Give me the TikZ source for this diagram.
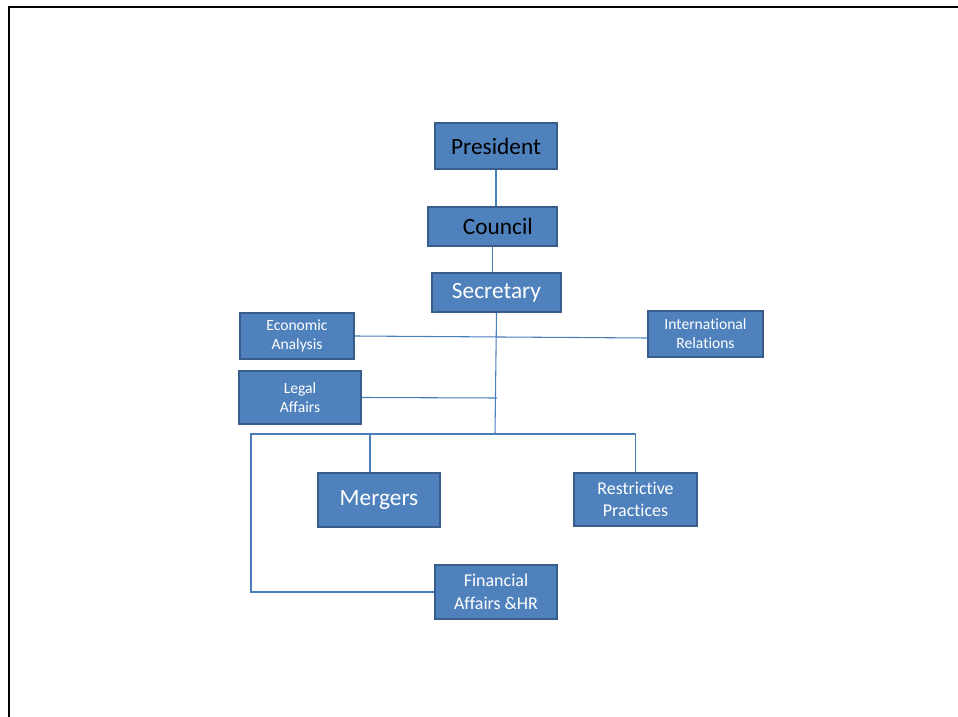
\documentclass[tikz,border=0pt]{standalone}
\usepackage{fontspec}
\setmainfont{Carlito}[RawFeature=-liga]
\usetikzlibrary{calc}
\definecolor{OrgFill}{HTML}{4F81BD}
\definecolor{OrgEdge}{HTML}{385D8A}
\definecolor{OrgLine}{HTML}{4A7EBB}
\tikzset{unit/.style={draw=OrgEdge,line width=1.6pt,fill=OrgFill,align=center,inner sep=0pt,text=white},big/.style={font=\fontsize{17.5}{21}\selectfont},mid/.style={font=\fontsize{13.5}{17}\selectfont},small/.style={font=\fontsize{11.7}{14.3}\selectfont},link/.style={draw=OrgLine,line width=0.8pt}}
\begin{document}
\begin{tikzpicture}[x=0.75pt,y=-0.75pt]
\useasboundingbox (0,0) rectangle (958,717);
\begin{scope}
\clip (0,0) rectangle (958,717);
\draw[line width=1.6pt] (9,7) rectangle (1000,760);
\end{scope}
\node[unit,big,text=black,minimum width=91.5pt,minimum height=34.5pt] (pres) at (496,146) {President};
\node[unit,big,text=black,minimum width=96.75pt,minimum height=29.25pt] (coun) at (492.5,226.5) {\hspace{8pt}Council};
\node[unit,big,minimum width=96.75pt,minimum height=29.25pt] (sec) at (496.5,292.5) {\raisebox{-1.5pt}{Secretary}};
\node[unit,small,minimum width=85.5pt,minimum height=34.5pt] (econ) at (297,336) {Economic\\Analysis};
\node[unit,small,minimum width=86.25pt,minimum height=34.5pt] (intl) at (705.5,334) {International\\Relations};
\node[unit,small,minimum width=91.5pt,minimum height=39.75pt] (legal) at (300,397.5) {Legal\\Affairs};
\node[unit,big,minimum width=91.5pt,minimum height=40.5pt] (mer) at (379,500) {\raisebox{-2.5pt}{Mergers}};
\node[unit,mid,minimum width=92.25pt,minimum height=39.75pt] (rp) at (635.5,499.5) {Restrictive\\Practices};
\node[unit,mid,minimum width=91.5pt,minimum height=40.5pt] (fin) at (496,592) {Financial\\Affairs \&HR};
\coordinate (jn) at (495,434);
\coordinate (bar) at (251,434);
\coordinate (legalend) at (497,398);
\draw[link] (pres.south) -- (pres.south |- coun.north);
\draw[link] (coun.south) -- (coun.south |- sec.north);
\draw[link] (sec.south) -- (jn);
\draw[link] (econ.east) -- ([yshift=-3pt]intl.west);
\draw[link] (legal.east) -- (legalend);
\draw[link] (fin.west) -| (bar) -- (bar -| rp.north) -- (rp.north);
\draw[link] ([xshift=-6.75pt]mer.north) -- ([xshift=-6.75pt]mer.north |- bar);
\end{tikzpicture}
\end{document}
